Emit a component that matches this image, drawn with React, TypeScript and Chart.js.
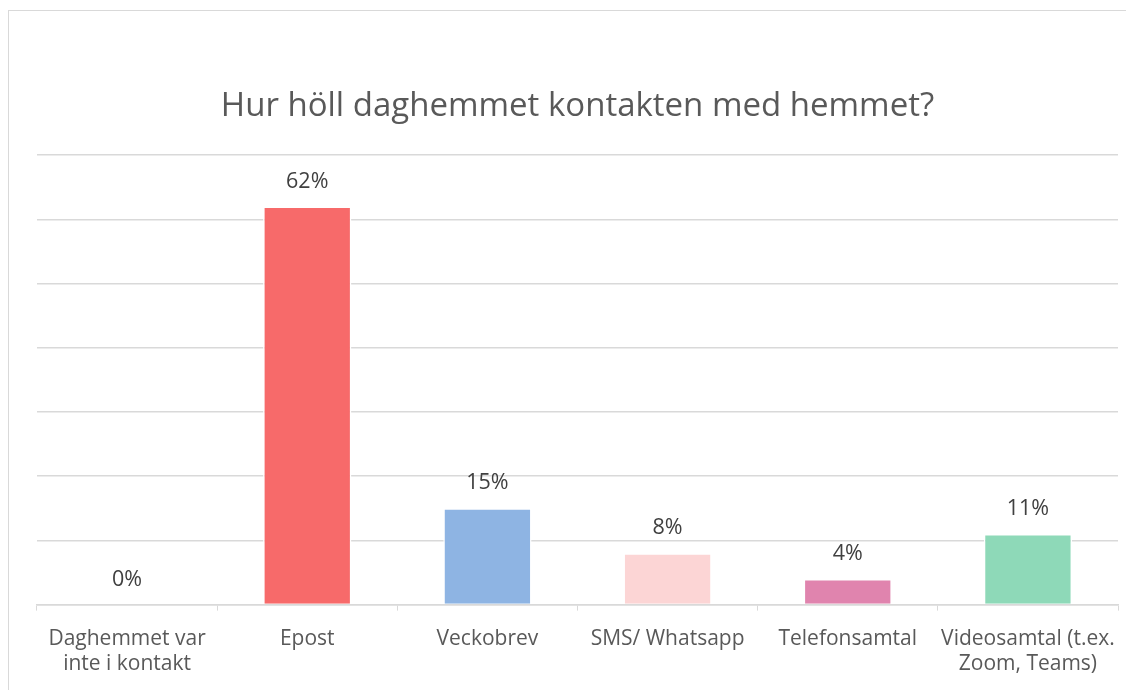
import React, { useEffect, useRef } from "react";
import { Chart, registerables } from "chart.js";

Chart.register(...registerables);

const categories: (string | string[])[] = [
  ["Daghemmet var", "inte i kontakt"],
  "Epost",
  "Veckobrev",
  "SMS/ Whatsapp",
  "Telefonsamtal",
  ["Videosamtal (t.ex.", "Zoom, Teams)"],
];
const values = [0, 0.62, 0.15, 0.08, 0.04, 0.11];
const valueLabels = ["0%", "62%", "15%", "8%", "4%", "11%"];
const barColors = ["#9ecae1", "#F76A6A", "#8EB4E3", "#FCD5D5", "#E084AE", "#8ED9B8"];
const titleText = "Hur höll daghemmet kontakten med hemmet?";

const FONT = "'Open Sans', 'DejaVu Sans', sans-serif";

const dataLabelPlugin = {
  id: "dataLabels",
  afterDatasetsDraw(chart: any) {
    const ctx = chart.ctx;
    const meta = chart.getDatasetMeta(0);
    ctx.save();
    ctx.font = `21.5px ${FONT}`;
    ctx.fillStyle = "#404040";
    ctx.textAlign = "center";
    ctx.textBaseline = "middle";
    meta.data.forEach((bar: any, i: number) => {
      ctx.fillText(valueLabels[i], bar.x, bar.y - 25);
    });
    ctx.restore();
  },
};

export default function App() {
  const ref = useRef<HTMLCanvasElement | null>(null);
  useEffect(() => {
    if (!ref.current) return;
    const chart = new Chart(ref.current, {
      type: "bar",
      data: {
        labels: categories,
        datasets: [
          {
            data: values,
            backgroundColor: barColors,
            borderColor: "#ffffff",
            borderWidth: 1.5,
            barPercentage: 0.49,
            categoryPercentage: 1,
          },
        ],
      },
      options: {
        animation: false,
        responsive: false,
        layout: { padding: { left: 28, right: 15, top: 76, bottom: 8 } },
        plugins: {
          legend: { display: false },
          tooltip: { enabled: false },
          title: {
            display: true,
            text: titleText,
            color: "#595959",
            font: { family: FONT, size: 33, weight: "normal" },
            padding: { top: 0, bottom: 28.6 },
          },
        },
        scales: {
          x: {
            grid: {
              display: true,
              drawOnChartArea: false,
              drawTicks: true,
              tickLength: 6,
              color: "#d9d9d9",
              offset: true,
            },
            border: { display: true, color: "#d9d9d9", width: 1.5 },
            ticks: {
              color: "#595959",
              font: { family: FONT, size: 21, lineHeight: 1.2 },
              padding: 16,
              maxRotation: 0,
              autoSkip: false,
            },
          },
          y: {
            min: 0,
            max: 0.7,
            ticks: { display: false, stepSize: 0.1 },
            grid: { color: "#d9d9d9", lineWidth: 1.5, drawTicks: false },
            border: { display: false },
          },
        },
      },
      plugins: [dataLabelPlugin],
    });
    return () => chart.destroy();
  }, []);
  return (
    <div
      style={{
        width: 1124,
        height: 690,
        marginTop: 2,
        border: "1px solid #d9d9d9",
        background: "#fff",
      }}
    >
      <canvas ref={ref} width={1124} height={690} style={{ display: "block" }} />
    </div>
  );
}
